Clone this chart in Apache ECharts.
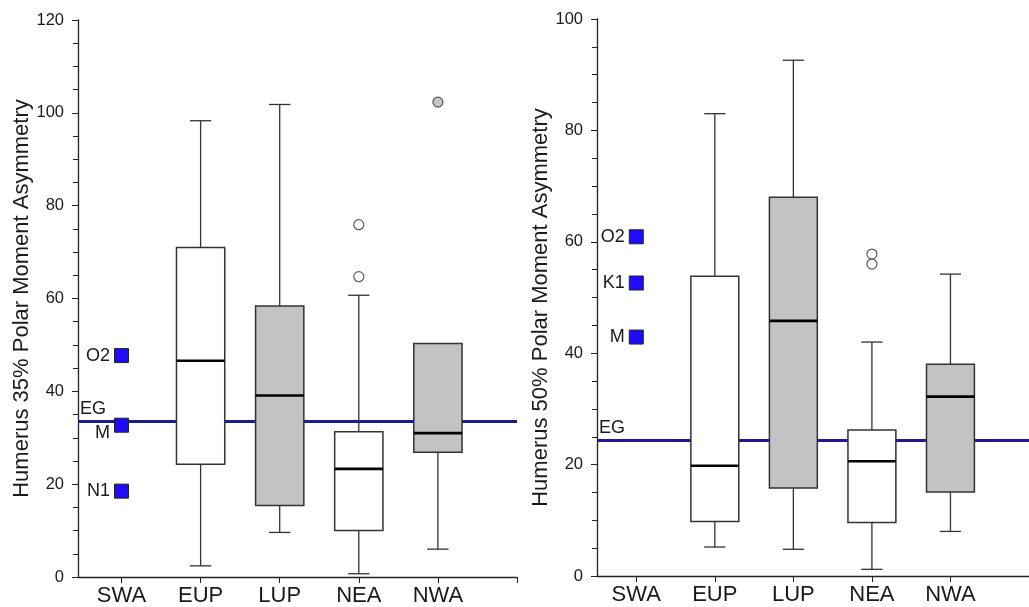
<!DOCTYPE html>
<html>
<head>
<meta charset="utf-8">
<script src="https://cdn.jsdelivr.net/npm/echarts@6/dist/echarts.min.js"></script>
<style>
  html, body { margin: 0; padding: 0; background: #fff; }
  #main { width: 1029px; height: 607px; }
</style>
</head>
<body>
<div id="main"></div>
<script>
const categories = ['SWA', 'EUP', 'LUP', 'NEA', 'NWA']
const boxGroups = ['EUP', 'LUP', 'NEA', 'NWA']

// [min, Q1, median, Q3, max] per box group
const box35 = [
    [2.4, 24.3, 46.6, 71.0, 98.3],
    [9.6, 15.4, 39.1, 58.4, 101.8],
    [0.7, 10.0, 23.3, 31.3, 60.7],
    [6.0, 26.9, 31.0, 50.3, 50.3],
]
const box50 = [
    [5.2, 9.8, 19.8, 53.8, 83.0],
    [4.8, 15.8, 45.8, 68.0, 92.6],
    [1.2, 9.6, 20.6, 26.2, 42.0],
    [8.0, 15.1, 32.2, 38.0, 54.2],
]

// outliers: [group, value]
const outliers35 = [['NEA', 75.9], ['NEA', 64.7], ['NWA', 102.3]]
const outliers50 = [['NEA', 57.8], ['NEA', 56.0]]

// SWA individuals
const swaNames35 = ['O2', 'M', 'N1']
const swaValues35 = [47.7, 32.7, 18.5]
const swaNames50 = ['O2', 'K1', 'M']
const swaValues50 = [60.9, 52.6, 42.9]

const eg35 = 33.6
const eg50 = 24.4

const yTicks35 = [0, 120, 20]
const yTicks50 = [0, 100, 20]

const FONT = "'Liberation Sans', Arial, sans-serif"
const TEXT = '#1a1a1a'
const grayGroups = ['LUP', 'NWA']

const xPos = name => categories.indexOf(name) + 1

function renderBox(params, api) {
    const x = api.value(0)
    const lo = api.value(1), q1 = api.value(2), med = api.value(3), q3 = api.value(4), hi = api.value(5)
    const half = api.size([0.61, 0])[0] / 2
    const cap = api.size([0.27, 0])[0] / 2
    const p = v => api.coord([x, v])
    const [cx, yLo] = p(lo)
    const yQ1 = p(q1)[1], yMed = p(med)[1], yQ3 = p(q3)[1], yHi = p(hi)[1]
    const stroke = { stroke: '#333', lineWidth: 1.3 }
    const fill = grayGroups.includes(categories[x - 1]) ? '#c3c3c3' : '#fff'
    const children = []
    if (hi > q3) {
        children.push({ type: 'line', shape: { x1: cx, y1: yQ3, x2: cx, y2: yHi }, style: stroke })
        children.push({ type: 'line', shape: { x1: cx - cap, y1: yHi, x2: cx + cap, y2: yHi }, style: stroke })
    }
    if (lo < q1) {
        children.push({ type: 'line', shape: { x1: cx, y1: yQ1, x2: cx, y2: yLo }, style: stroke })
        children.push({ type: 'line', shape: { x1: cx - cap, y1: yLo, x2: cx + cap, y2: yLo }, style: stroke })
    }
    children.push({
        type: 'rect',
        shape: { x: cx - half, y: yQ3, width: half * 2, height: yQ1 - yQ3 },
        style: { fill, stroke: '#333', lineWidth: 1.5 },
    })
    children.push({
        type: 'line',
        shape: { x1: cx - half, y1: yMed, x2: cx + half, y2: yMed },
        style: { stroke: '#000', lineWidth: 2.6 },
    })
    return { type: 'group', children }
}

function makeX(idx, min, max) {
    return {
        type: 'value',
        gridIndex: idx,
        min, max,
        splitLine: { show: false },
        axisLine: { show: true, onZero: false, lineStyle: { color: '#222', width: 1.3 } },
        axisTick: { show: true, length: 6, customValues: [1, 2, 3, 4, 5, 6], lineStyle: { color: '#222' } },
        axisLabel: {
            customValues: [1, 2, 3, 4, 5],
            formatter: v => categories[v - 1] || '',
            fontSize: 22, fontFamily: FONT, color: TEXT, margin: 8,
        },
    }
}

function makeY(idx, ticks, name, namePad) {
    return {
        type: 'value',
        gridIndex: idx,
        min: ticks[0], max: ticks[1], interval: ticks[2],
        name,
        nameLocation: 'middle',
        nameGap: 43,
        nameTextStyle: { fontSize: 22, fontFamily: FONT, color: TEXT, padding: namePad },
        splitLine: { show: false },
        axisLine: { show: true, lineStyle: { color: '#222', width: 1.3 } },
        axisTick: { show: true, length: 6, lineStyle: { color: '#222' } },
        minorTick: { show: true, splitNumber: 4, length: 5, lineStyle: { color: '#222' } },
        axisLabel: { fontSize: 16.5, fontFamily: FONT, color: TEXT, margin: 14 },
    }
}

function seriesFor(idx, boxes, outliers, swaNames, swaValues, eg, mOffset) {
    return [
        {
            type: 'line',
            xAxisIndex: idx, yAxisIndex: idx,
            data: [],
            z: 1,
            markLine: {
                silent: true,
                z: 1,
                symbol: 'none',
                animation: false,
                lineStyle: { color: '#1e1c8c', width: 3.2, type: 'solid' },
                label: {
                    position: 'insideStartTop', formatter: 'EG', distance: [2, 3],
                    fontSize: 18, fontFamily: FONT, color: TEXT,
                },
                data: [{ yAxis: eg }],
            },
        },
        {
            type: 'custom',
            xAxisIndex: idx, yAxisIndex: idx,
            z: 3,
            renderItem: renderBox,
            encode: { x: 0, y: [1, 2, 3, 4, 5] },
            data: boxes.map((b, i) => [xPos(boxGroups[i]), ...b]),
        },
        {
            type: 'scatter',
            xAxisIndex: idx, yAxisIndex: idx,
            z: 4,
            symbol: 'circle',
            symbolSize: 10,
            data: outliers.map(o => ({
                value: [xPos(o[0]), o[1]],
                itemStyle: {
                    color: grayGroups.includes(o[0]) ? '#b8b8b8' : '#fff',
                    borderColor: '#333', borderWidth: 1.2,
                },
            })),
        },
        {
            type: 'scatter',
            xAxisIndex: idx, yAxisIndex: idx,
            z: 5,
            symbol: 'rect',
            symbolSize: 14,
            itemStyle: { color: '#1f0cff', borderColor: '#222', borderWidth: 1, opacity: 1 },
            label: {
                show: true, position: 'left', distance: 4,
                formatter: p => p.name,
                fontSize: 18, fontFamily: FONT, color: TEXT,
            },
            data: swaNames.map((n, i) => ({
                name: n,
                value: [xPos('SWA'), swaValues[i]],
                label: n === 'M' && mOffset ? { offset: mOffset } : undefined,
            })),
        },
    ]
}

const chart = echarts.init(document.getElementById('main'))
chart.setOption({
    animation: false,
    backgroundColor: '#fff',
    grid: [
        { left: 78, top: 20, width: 439, height: 557 },
        { left: 597, top: 19, width: 437, height: 557 },
    ],
    xAxis: [makeX(0, 0.45, 6), makeX(1, 0.5, 6)],
    yAxis: [
        makeY(0, yTicks35, 'Humerus 35% Polar Moment Asymmetry', 0),
        makeY(1, yTicks50, 'Humerus 50% Polar Moment Asymmetry', [0, 20, 0, 0]),
    ],
    series: [
        ...seriesFor(0, box35, outliers35, swaNames35, swaValues35, eg35, [0, 8]),
        ...seriesFor(1, box50, outliers50, swaNames50, swaValues50, eg50, null),
    ],
})
</script>
</body>
</html>
